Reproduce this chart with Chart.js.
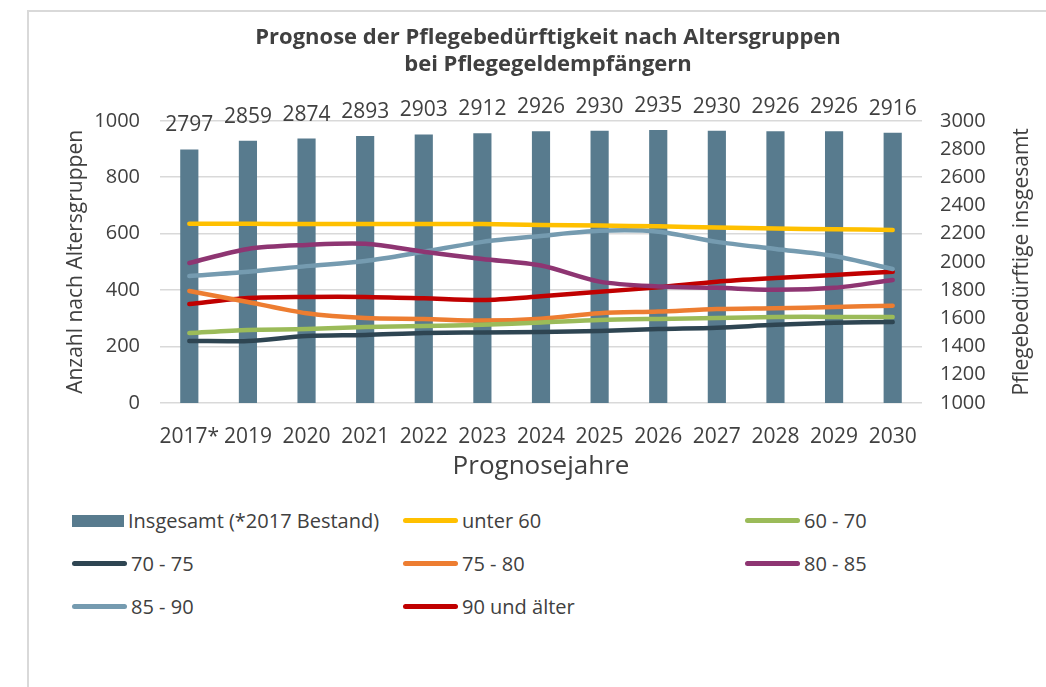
<!DOCTYPE html>
<html lang="de">
<head>
<meta charset="utf-8">
<script src="https://cdn.jsdelivr.net/npm/chart.js@4/dist/chart.umd.min.js"></script>
<style>
    body { margin: 0; background: #fff; font-family: 'Open Sans', sans-serif; }
    #rahmen { position: absolute; left: 27px; top: 10px; width: 1100px; height: 800px; border-left: 2px solid #d9d9d9; border-top: 2px solid #d9d9d9; }
    #grafik { position: absolute; left: 0; top: 0; }
    #legende { position: absolute; left: 72px; top: 499px; display: grid; grid-template-columns: 331px 342px 240px; grid-auto-rows: 43px; align-items: center; }
    .eintrag { display: flex; align-items: center; font-size: 20px; color: #404040; white-space: nowrap; }
    .symbol { display: inline-block; margin-right: 4px; }
</style>
</head>
<body>
<div id="rahmen"></div>
<canvas id="grafik" width="1046" height="483"></canvas>
<div id="legende"></div>
<script>
    // Werte
    const jahre = ['2017*', '2019', '2020', '2021', '2022', '2023', '2024', '2025', '2026', '2027', '2028', '2029', '2030'];
    const insgesamt = [2797, 2859, 2874, 2893, 2903, 2912, 2926, 2930, 2935, 2930, 2926, 2926, 2916];
    const unter60 = [635, 635, 634, 634, 634, 634, 631, 629, 626, 622, 618, 616, 613];
    const gruppe60bis70 = [248, 259, 262, 269, 273, 277, 285, 294, 298, 301, 305, 305, 305];
    const gruppe70bis75 = [220, 220, 237, 241, 248, 250, 252, 255, 262, 267, 277, 284, 287];
    const gruppe75bis80 = [397, 358, 318, 301, 298, 292, 299, 318, 324, 333, 336, 340, 345];
    const gruppe80bis85 = [496, 546, 560, 564, 536, 510, 487, 430, 413, 408, 401, 408, 436];
    const gruppe85bis90 = [450, 465, 485, 503, 536, 571, 592, 610, 607, 571, 546, 521, 475];
    const gruppe90plus = [351, 372, 376, 376, 371, 365, 378, 394, 410, 430, 443, 454, 465];
    const linksTicks = [0, 200, 400, 600, 800, 1000];
    const rechtsTicks = [1000, 1200, 1400, 1600, 1800, 2000, 2200, 2400, 2600, 2800, 3000];

    const textFarbe = '#404040';
    const schrift = 'Open Sans';

    function linie(label, daten, farbe) {
        return {
            type: 'line',
            label: label,
            data: daten,
            borderColor: farbe,
            backgroundColor: farbe,
            borderWidth: 4.5,
            borderCapStyle: 'round',
            pointRadius: 0,
            tension: 0.3,
            yAxisID: 'y',
            order: 0
        };
    }

    // Werte über den Balken + rechter Achsentitel (von unten nach oben gelesen)
    const zusatzText = {
        id: 'zusatzText',
        afterDatasetsDraw(chart) {
            const ctx = chart.ctx;
            const meta = chart.getDatasetMeta(0);
            ctx.save();
            ctx.font = '21px "' + schrift + '"';
            ctx.fillStyle = textFarbe;
            ctx.textAlign = 'center';
            ctx.textBaseline = 'middle';
            meta.data.forEach(function(balken, i) {
                ctx.fillText(chart.data.datasets[0].data[i], balken.x, balken.y - 24);
            });
            const area = chart.chartArea;
            ctx.translate(1022, (area.top + area.bottom) / 2);
            ctx.rotate(-Math.PI / 2);
            ctx.fillText('Pflegebedürftige insgesamt', 0, 0);
            ctx.restore();
        }
    };

    const ctx = document.getElementById('grafik').getContext('2d');

    const grafik = new Chart(ctx, {
        data: {
            labels: jahre,
            datasets: [
                {
                    type: 'bar',
                    label: 'Insgesamt (*2017 Bestand)',
                    data: insgesamt,
                    backgroundColor: '#587b8e',
                    barPercentage: 0.31,
                    categoryPercentage: 1,
                    yAxisID: 'y1',
                    order: 1
                },
                linie('unter 60', unter60, '#ffc000'),
                linie('60 - 70', gruppe60bis70, '#9bbb59'),
                linie('70 - 75', gruppe70bis75, '#2e4552'),
                linie('75 - 80', gruppe75bis80, '#ed7d31'),
                linie('80 - 85', gruppe80bis85, '#8e3572'),
                linie('85 - 90', gruppe85bis90, '#759bb0'),
                linie('90 und älter', gruppe90plus, '#c00000')
            ]
        },
        options: {
            responsive: false,
            devicePixelRatio: 1,
            animation: false,
            layout: {
                padding: { left: 60, right: 10, top: 0, bottom: 0 }
            },
            plugins: {
                legend: { display: false },
                tooltip: { enabled: false },
                title: {
                    display: true,
                    text: ['Prognose der Pflegebedürftigkeit nach Altersgruppen', 'bei Pflegegeldempfängern'],
                    color: textFarbe,
                    font: { family: schrift, size: 22, weight: 'bold', lineHeight: 1.2 },
                    padding: { top: 25, bottom: 43 }
                }
            },
            scales: {
                x: {
                    grid: { display: false },
                    border: { display: false },
                    ticks: { color: textFarbe, font: { family: schrift, size: 21 }, padding: 13, maxRotation: 0, autoSkip: false },
                    title: {
                        display: true,
                        text: 'Prognosejahre',
                        color: textFarbe,
                        font: { family: schrift, size: 26 },
                        padding: { top: 0, bottom: 1 }
                    },
                    afterFit: function(scale) { scale.height = 80; }
                },
                y: {
                    position: 'left',
                    min: 0,
                    max: 1000,
                    afterBuildTicks: function(scale) { scale.ticks = linksTicks.map(v => ({ value: v })); },
                    grid: { color: '#d9d9d9', lineWidth: 1.5, drawTicks: false },
                    border: { display: false },
                    ticks: { color: textFarbe, font: { family: schrift, size: 20 }, padding: 20, callback: v => String(v) },
                    title: {
                        display: true,
                        text: 'Anzahl nach Altersgruppen',
                        color: textFarbe,
                        font: { family: schrift, size: 21 },
                        padding: { top: 3, bottom: 0 }
                    },
                    afterFit: function(scale) { scale.width = 100; }
                },
                y1: {
                    position: 'right',
                    min: 1000,
                    max: 3000,
                    afterBuildTicks: function(scale) { scale.ticks = rechtsTicks.map(v => ({ value: v })); },
                    grid: { display: false, drawTicks: false },
                    border: { display: false },
                    ticks: { color: textFarbe, font: { family: schrift, size: 20 }, padding: 18, callback: v => String(v) },
                    afterFit: function(scale) { scale.width = 114; }
                }
            }
        },
        plugins: [zusatzText]
    });

    // Legende als HTML in drei Spalten
    const legende = document.getElementById('legende');
    grafik.data.datasets.forEach(function(ds) {
        const eintrag = document.createElement('div');
        eintrag.className = 'eintrag';
        const symbol = document.createElement('span');
        symbol.className = 'symbol';
        if (ds.type === 'bar') {
            symbol.style.width = '52px';
            symbol.style.height = '12px';
            symbol.style.background = ds.backgroundColor;
        } else {
            symbol.style.width = '55px';
            symbol.style.height = '5px';
            symbol.style.borderRadius = '3px';
            symbol.style.background = ds.borderColor;
        }
        eintrag.appendChild(symbol);
        eintrag.appendChild(document.createTextNode(ds.label));
        legende.appendChild(eintrag);
    });
</script>
</body>
</html>
